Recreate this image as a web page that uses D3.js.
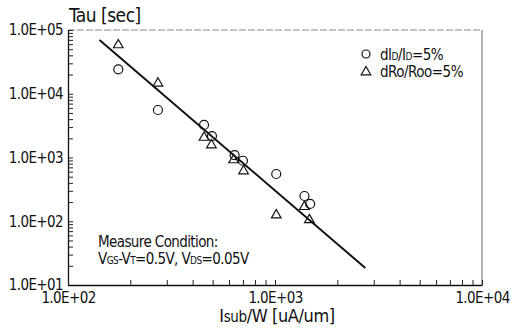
<!DOCTYPE html>
<html>
<head>
<meta charset="utf-8">
<script src="https://cdn.jsdelivr.net/npm/d3@7"></script>
<style>
  body { margin: 0; background: #fff; }
  svg { display: block; }
  text { font-family: "Liberation Sans Narrow", "DejaVu Sans Condensed", "DejaVu Sans", sans-serif; fill: #111; }
</style>
</head>
<body>
<svg id="chart" width="520" height="329"></svg>
<script>
// Data (log-log)
var circleX = [175, 272, 454, 496, 638, 700, 1014, 1387, 1478];
var circleY = [24200, 5560, 3240, 2170, 1090, 890, 551, 249, 187];
var triangleX = [175, 272, 454, 493, 631, 705, 1014, 1387, 1466];
var triangleY = [58200, 14600, 2060, 1570, 914, 614, 125, 169, 105];

// fitted line end points
var fitX = [142, 2730];
var fitY = [69700, 18.5];

var xMajor = [1e2, 1e3, 1e4];
var yMajor = [1e1, 1e2, 1e3, 1e4, 1e5];
var xTickLabels = ["1.0E+02", "1.0E+03", "1.0E+04"];
var yTickLabels = ["1.0E+01", "1.0E+02", "1.0E+03", "1.0E+04", "1.0E+05"];

var svg = d3.select("#chart");
var plotLeft = 68, plotRight = 482, plotTop = 30, plotBottom = 285;

var x = d3.scaleLog().domain([1e2, 1e4]).range([plotLeft, plotRight]);
var y = d3.scaleLog().domain([1e1, 1e5]).range([plotBottom, plotTop]);

// minor + major tick values
function logTicks(lo, hi) {
    var t = [];
    for (var e = lo; e < hi; e++) {
        for (var m = 1; m < 10; m++) t.push(m * Math.pow(10, e));
    }
    t.push(Math.pow(10, hi));
    return t;
}

// frame: top and right are faint
svg.append("line")
    .attr("x1", plotLeft).attr("x2", plotRight).attr("y1", plotTop).attr("y2", plotTop)
    .attr("stroke", "#888").attr("stroke-width", 1).attr("stroke-dasharray", "7,2");
svg.append("line")
    .attr("x1", plotRight).attr("x2", plotRight).attr("y1", plotTop).attr("y2", plotBottom)
    .attr("stroke", "#666").attr("stroke-width", 1);

// Y axis
var yAxis = d3.axisLeft(y)
    .tickValues(logTicks(1, 5))
    .tickSizeInner(-5).tickSizeOuter(0).tickPadding(5)
    .tickFormat(d => {
        var i = yMajor.indexOf(d);
        return i >= 0 ? yTickLabels[i] : "";
    });
var gy = svg.append("g").attr("transform", `translate(${plotLeft},0)`).call(yAxis);
gy.selectAll("text").attr("font-size", 15).attr("letter-spacing", -0.6).attr("fill", "#111");

// X axis
var xAxis = d3.axisBottom(x)
    .tickValues(logTicks(2, 4))
    .tickSizeInner(-5).tickSizeOuter(0).tickPadding(7)
    .tickFormat(d => {
        var i = xMajor.indexOf(d);
        return i >= 0 ? xTickLabels[i] : "";
    });
var gx = svg.append("g").attr("transform", `translate(0,${plotBottom})`).call(xAxis);
gx.selectAll("text").attr("font-size", 15).attr("letter-spacing", -0.6).attr("fill", "#111");

svg.selectAll(".domain").attr("stroke", "#111").attr("stroke-width", 1.3);
svg.selectAll(".tick line").attr("stroke", "#222");

// Axis titles
svg.append("text")
    .attr("x", 69).attr("y", 22)
    .attr("font-size", 19).attr("letter-spacing", -0.5)
    .text("Tau [sec]");

var xt = svg.append("text")
    .attr("x", 277).attr("y", 322)
    .attr("text-anchor", "middle")
    .attr("font-size", 18).attr("letter-spacing", -0.4);
xt.append("tspan").text("I");
xt.append("tspan").attr("font-size", 15).text("sub");
xt.append("tspan").text("/W [uA/um]");

// Fitted line
svg.append("path")
    .datum(d3.zip(fitX, fitY))
    .attr("fill", "none")
    .attr("stroke", "#111")
    .attr("stroke-width", 2)
    .attr("d", d3.line().x(d => x(d[0])).y(d => y(d[1])));

// Circles
svg.append("g").selectAll("circle")
    .data(d3.zip(circleX, circleY))
    .join("circle")
    .attr("cx", d => x(d[0]))
    .attr("cy", d => y(d[1]))
    .attr("r", 4.5)
    .attr("fill", "none")
    .attr("stroke", "#111")
    .attr("stroke-width", 1.2);

// Triangles
var tri = d3.symbol().type(d3.symbolTriangle).size(40);
svg.append("g").selectAll("path")
    .data(d3.zip(triangleX, triangleY))
    .join("path")
    .attr("transform", d => `translate(${x(d[0])},${y(d[1])})`)
    .attr("d", tri)
    .attr("fill", "none")
    .attr("stroke", "#111")
    .attr("stroke-width", 1.2);

// Legend
svg.append("circle")
    .attr("cx", 366).attr("cy", 54).attr("r", 4)
    .attr("fill", "none").attr("stroke", "#111").attr("stroke-width", 1.2);
svg.append("path")
    .attr("transform", "translate(366,72)")
    .attr("d", tri)
    .attr("fill", "none").attr("stroke", "#111").attr("stroke-width", 1.2);

var l1 = svg.append("text").attr("x", 380).attr("y", 60)
    .attr("font-size", 15).attr("letter-spacing", -0.5);
l1.append("tspan").text("dI");
l1.append("tspan").attr("font-size", 10).text("D");
l1.append("tspan").text("/I");
l1.append("tspan").attr("font-size", 10).text("D");
l1.append("tspan").text("=5%");

svg.append("text").attr("x", 380).attr("y", 77)
    .attr("font-size", 15).attr("letter-spacing", -0.5)
    .text("dRo/Roo=5%");

// Measure condition note
svg.append("text").attr("x", 98).attr("y", 247)
    .attr("font-size", 15).attr("letter-spacing", -0.6)
    .text("Measure Condition:");
var m2 = svg.append("text").attr("x", 98).attr("y", 264)
    .attr("font-size", 15).attr("letter-spacing", -0.6);
m2.append("tspan").text("V");
m2.append("tspan").attr("font-size", 10).text("GS");
m2.append("tspan").text("-V");
m2.append("tspan").attr("font-size", 10).text("T");
m2.append("tspan").text("=0.5V, V");
m2.append("tspan").attr("font-size", 10).text("DS");
m2.append("tspan").text("=0.05V");
</script>
</body>
</html>
